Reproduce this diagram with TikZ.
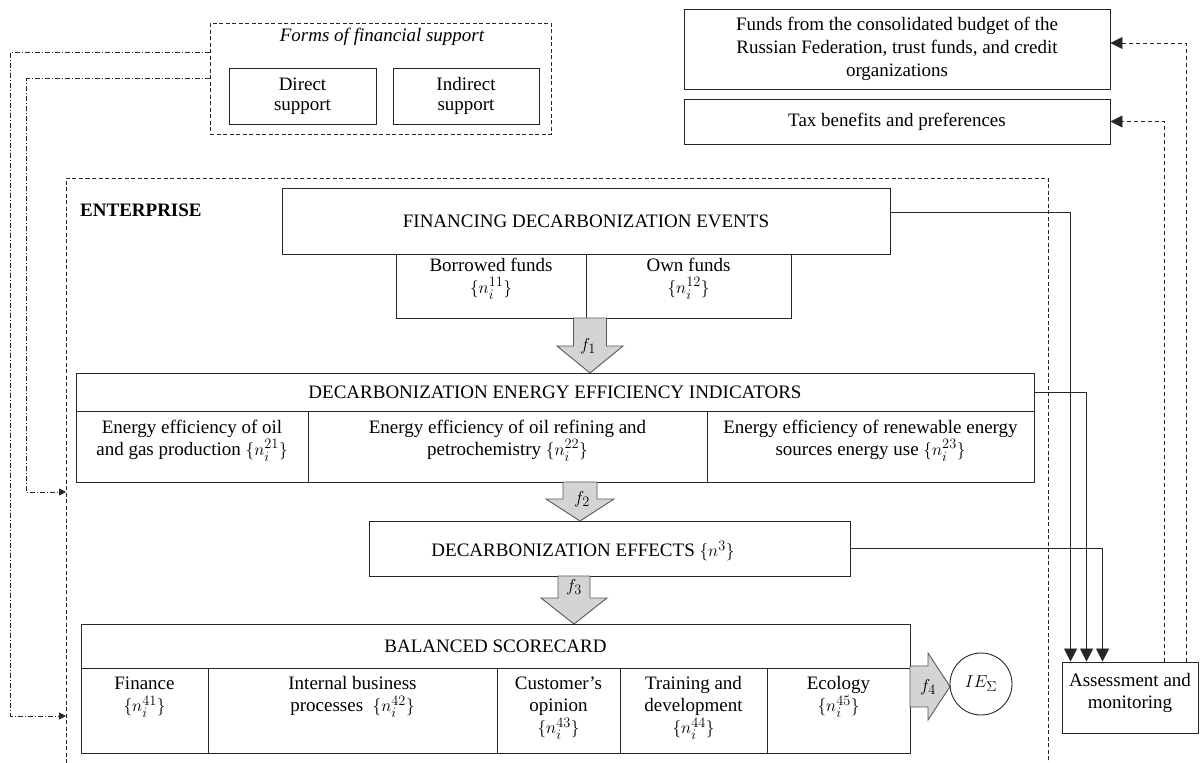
\documentclass[tikz,border=0pt]{standalone}
\usepackage{amsmath}
\usepackage{fontspec}
\setmainfont{Liberation Serif}
\usepackage{tikz}
\usetikzlibrary{arrows.meta,positioning}
\newcommand{\fsz}{\fontsize{19}{22}\selectfont}
\tikzset{
  bx/.style = {rectangle, align=center, inner sep=0pt, draw=black!85, line width=0.9pt},% plain box
  ent_line/.style = {draw=black!85, line width=0.8pt, dash pattern=on 4pt off 2.5pt},% dashed frame
  bx_dash/.style = {rectangle, inner sep=0pt, ent_line},
  txt/.style = {align=center, inner sep=0pt},
  fat_arr/.style = {draw=black!65, fill=black!17, line width=0.9pt},% f arrows
  ln_solid/.style = {draw=black!85, line width=0.8pt, -{Triangle[width=13pt,length=13pt]}},
  ln_dash/.style = {draw=black!85, line width=0.8pt, dash pattern=on 4pt off 3pt, -{Triangle[width=12pt,length=12pt]}},
  ln_dashdot/.style = {draw=black!85, line width=0.8pt, dash pattern=on 5pt off 2pt on 1pt off 2pt, -{Triangle[width=7pt,length=7pt]}}
}

\begin{document}
\begin{tikzpicture}[x=1pt, y=-1pt, font=\fsz]
\useasboundingbox (0,0) rectangle (1200,763);
% forms of support
\node [bx_dash, minimum width=341pt, minimum height=111pt] (forms) at (380.5,78.5) {};
\node [txt, font=\fsz\itshape] (forms_ttl) at (382,37) {Forms of financial support};
\node [bx, minimum width=147pt, minimum height=56pt, font=\fontsize{19}{20}\selectfont] (direct) at (302.5,96) {Direct\\support};
\node [bx, minimum width=146pt, minimum height=56pt, font=\fontsize{19}{20}\selectfont] (indirect) at (466,96) {Indirect\\support};
% outside sources
\node [bx, minimum width=426pt, minimum height=80pt, font=\fontsize{19}{23}\selectfont] (funds) at (897,49) {Funds from the consolidated budget of the\\Russian Federation, trust funds, and credit\\organizations};
\node [bx, minimum width=426pt, minimum height=45pt] (tax) at (897,121.5) {Tax benefits and preferences};
% enterprise
\draw [ent_line] (66,763) |- (1048,178) -- (1048,763);
\node [txt, font=\fsz\bfseries, anchor=west] (ent_ttl) at (80,210) {ENTERPRISE};
\node [bx, minimum width=608pt, minimum height=66pt] (fin) at (586,221) {FINANCING DECARBONIZATION EVENTS};
\node [bx, minimum width=190pt, minimum height=64pt] (borr) at (491,286) {};
\node [bx, minimum width=205pt, minimum height=64pt] (own) at (688.5,286) {};
\node [txt, below=4pt of borr.north] (borr_txt) {Borrowed funds\\$\{n_i^{11}\}$};
\node [txt, below=4pt of own.north] (own_txt) {Own funds\\$\{n_i^{12}\}$};
\draw [fat_arr] (573.5,318) -- (606.5,318) -- (606.5,346) -- (623,346) -- (590,373) -- (557,346) -- (573.5,346) -- cycle;
\node (f_one) at (588,346) {$f_1$};
% energy efficiency
\node [bx, minimum width=958pt, minimum height=38pt] (ind) at (555,392) {DECARBONIZATION ENERGY EFFICIENCY INDICATORS};
\node [bx, minimum width=232pt, minimum height=71pt] (ind_a) at (192,446.5) {};
\node [bx, minimum width=399pt, minimum height=71pt] (ind_b) at (507.5,446.5) {};
\node [bx, minimum width=327pt, minimum height=71pt] (ind_c) at (870.5,446.5) {};
\node [txt, below=9pt of ind_a.north] (ind_a_txt) {Energy efficiency of oil\\and gas production $\{n_i^{21}\}$};
\node [txt, below=9pt of ind_b.north] (ind_b_txt) {Energy efficiency of oil refining and\\petrochemistry $\{n_i^{22}\}$};
\node [txt, below=9pt of ind_c.north] (ind_c_txt) {Energy efficiency of renewable energy\\sources energy use $\{n_i^{23}\}$};
\draw [fat_arr] (563,482) -- (597,482) -- (597,499) -- (614,499) -- (580,521) -- (546,499) -- (563,499) -- cycle;
\node (f_two) at (582,499) {$f_2$};
% effects
\node [bx, minimum width=481pt, minimum height=55pt] (eff) at (609.5,548.5) {};
\node [txt] (eff_txt) at (583,551) {DECARBONIZATION EFFECTS $\{n^{3}\}$};
\draw [fat_arr] (558,576) -- (590,576) -- (590,598) -- (607,598) -- (574,624) -- (541,598) -- (558,598) -- cycle;
\node (f_three) at (574,587) {$f_3$};
% scorecard
\node [bx, minimum width=829pt, minimum height=44pt] (bsc) at (495.5,646) {BALANCED SCORECARD};
\node [bx, minimum width=127pt, minimum height=85pt] (bsc_a) at (144.5,710.5) {};
\node [bx, minimum width=289pt, minimum height=85pt] (bsc_b) at (352.5,710.5) {};
\node [bx, minimum width=123pt, minimum height=85pt] (bsc_c) at (558.5,710.5) {};
\node [bx, minimum width=147pt, minimum height=85pt] (bsc_d) at (693.5,710.5) {};
\node [bx, minimum width=143pt, minimum height=85pt] (bsc_e) at (838.5,710.5) {};
\node [txt, below=9pt of bsc_a.north] (bsc_a_txt) {Finance\\$\{n_i^{41}\}$};
\node [txt, below=9pt of bsc_b.north] (bsc_b_txt) {Internal business\\processes~~$\{n_i^{42}\}$};
\node [txt, below=9pt of bsc_c.north] (bsc_c_txt) {Customer{\char"27}s\\opinion\\$\{n_i^{43}\}$};
\node [txt, below=9pt of bsc_d.north] (bsc_d_txt) {Training and\\development\\$\{n_i^{44}\}$};
\node [txt, below=9pt of bsc_e.north] (bsc_e_txt) {Ecology\\$\{n_i^{45}\}$};
\draw [fat_arr] (910,666) -- (928,666) -- (928,653) -- (950,686.5) -- (928,720) -- (928,707) -- (910,707) -- cycle;
\node (f_four) at (928,687) {$f_4$};
\node [circle, draw=black!85, line width=0.9pt, minimum size=62pt, inner sep=0pt] (ie) at (981,684) {$IE_{\Sigma}$};
% assessment
\node [bx, minimum width=136pt, minimum height=71pt] (assess) at (1130,697.5) {};
\node [txt, below=12pt of assess.north] (assess_txt) {Assessment and\\monitoring};
\draw [ln_solid] ([yshift=9pt]fin.east) -| ([xshift=9pt]assess.north west);
\draw [ln_solid] (ind.east) -| ([xshift=25pt]assess.north west);
\draw [ln_solid] (eff.east) -| ([xshift=41pt]assess.north west);
\draw [ln_dash] ([xshift=125pt]assess.north west) |- ([yshift=6pt]funds.east);
\draw [ln_dash] ([xshift=103pt]assess.north west) |- (tax.east);
% support to enterprise
\coordinate (ent_in1) at (66,492);
\coordinate (ent_in2) at (66,716);
\draw [ln_dashdot] (forms.west) -- ++(-183,0) |- (ent_in1);
\draw [ln_dashdot] ([yshift=26.5pt]forms.west) -- ++(-199,0) |- (ent_in2);
\end{tikzpicture}
\end{document}
